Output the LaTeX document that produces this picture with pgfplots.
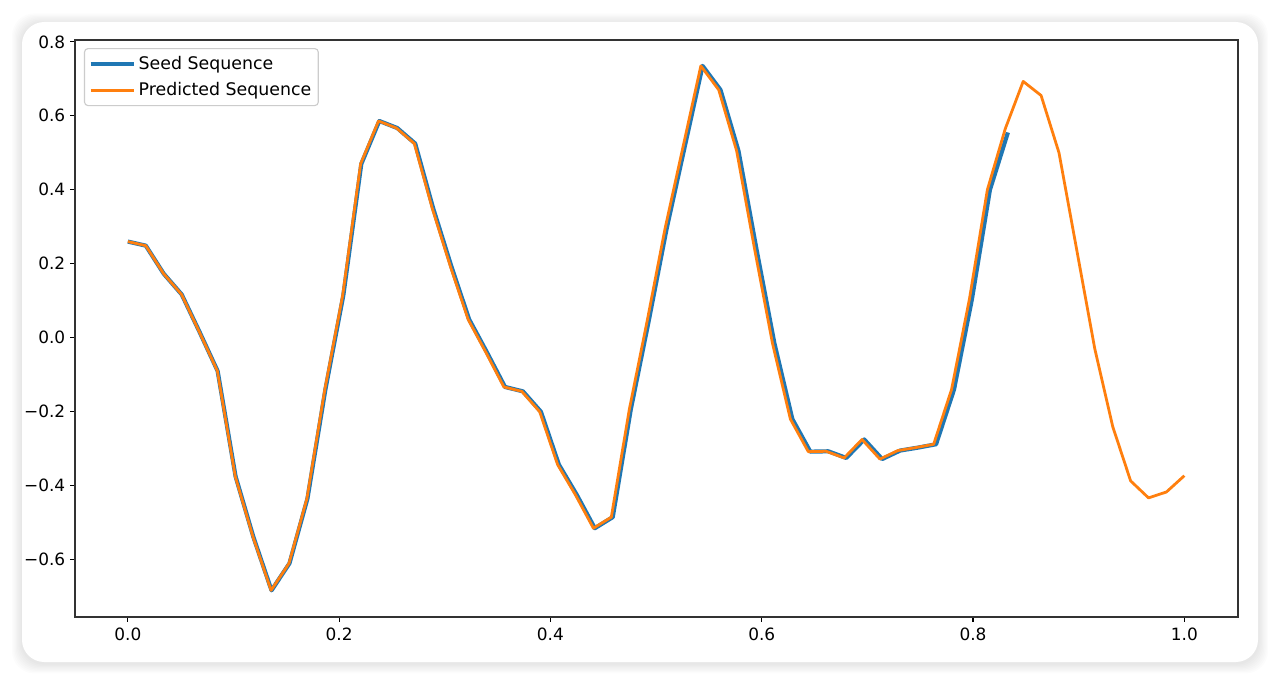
\documentclass[border=0pt]{standalone}
\usepackage{fontspec}
\setmainfont{DejaVu Sans}
\usepackage{pgfplots}
\usepackage{pgfplotstable}
\pgfplotsset{compat=1.18}
\definecolor{tabblue}{HTML}{1F77B4}
\definecolor{taborange}{HTML}{FF7F0E}

\pgfplotstableread{
x y
0.000 0.260
0.017 0.249
0.034 0.173
0.051 0.117
0.068 0.015
0.085 -0.090
0.102 -0.375
0.119 -0.540
0.136 -0.683
0.153 -0.610
0.170 -0.435
0.187 -0.140
0.204 0.115
0.221 0.470
0.238 0.586
0.255 0.567
0.272 0.525
0.289 0.350
0.306 0.195
0.323 0.050
0.340 -0.040
0.357 -0.133
0.374 -0.145
0.391 -0.200
0.408 -0.343
0.425 -0.425
0.442 -0.515
0.459 -0.485
0.476 -0.195
0.493 0.045
0.510 0.295
0.527 0.515
0.544 0.735
0.561 0.670
0.578 0.505
0.595 0.240
0.612 -0.015
0.629 -0.220
0.646 -0.308
0.663 -0.307
0.680 -0.325
0.697 -0.275
0.714 -0.328
0.731 -0.305
0.748 -0.297
0.765 -0.288
0.782 -0.140
0.799 0.105
0.816 0.400
0.833 0.555
}\seed

\pgfplotstableread{
x y
0.00000 0.260
0.01695 0.249
0.03390 0.173
0.05085 0.117
0.06780 0.015
0.08475 -0.090
0.10169 -0.375
0.11864 -0.540
0.13559 -0.683
0.15254 -0.610
0.16949 -0.435
0.18644 -0.140
0.20339 0.115
0.22034 0.470
0.23729 0.586
0.25424 0.567
0.27119 0.525
0.28814 0.350
0.30508 0.195
0.32203 0.050
0.33898 -0.040
0.35593 -0.133
0.37288 -0.145
0.38983 -0.200
0.40678 -0.343
0.42373 -0.425
0.44068 -0.515
0.45763 -0.485
0.47458 -0.195
0.49153 0.045
0.50847 0.295
0.52542 0.515
0.54237 0.735
0.55932 0.670
0.57627 0.505
0.59322 0.240
0.61017 -0.015
0.62712 -0.220
0.64407 -0.308
0.66102 -0.307
0.67797 -0.325
0.69492 -0.275
0.71186 -0.328
0.72881 -0.305
0.74576 -0.297
0.76271 -0.288
0.77966 -0.140
0.79661 0.105
0.81356 0.400
0.83051 0.565
0.84746 0.693
0.86441 0.655
0.88136 0.500
0.89831 0.235
0.91525 -0.030
0.93220 -0.240
0.94915 -0.387
0.96610 -0.433
0.98305 -0.417
1.00000 -0.373
}\pred

\begin{document}
\begin{tikzpicture}
\useasboundingbox (0,0) rectangle (923.04pt,493.2pt);
\fill[white] (0,0) rectangle (923.04pt,493.2pt);
\foreach \k in {1,...,8}{
  \fill[black, opacity=0.012, rounded corners=16pt]
    (15.84pt-\k*0.9pt,16.56pt-\k*0.9pt-1pt) rectangle (905.76pt+\k*0.9pt,477.36pt+\k*0.9pt-1pt);
}
\fill[white, rounded corners=16pt] (15.84pt,16.56pt) rectangle (905.76pt,477.36pt);
\begin{axis}[
  at={(54pt,48.96pt)}, anchor=south west,
  scale only axis, width=837.36pt, height=415.44pt,
  xmin=-0.05, xmax=1.0508, ymin=-0.755, ymax=0.805,
  xtick={0,0.2,0.4,0.6,0.8,1.0},
  xticklabels={0.0,0.2,0.4,0.6,0.8,1.0},
  ytick={-0.6,-0.4,-0.2,0,0.2,0.4,0.6,0.8},
  yticklabels={−0.6,−0.4,−0.2,0.0,0.2,0.4,0.6,0.8},
  tick align=outside, tick pos=left,
  major tick length=3.5pt,
  tick style={black, line width=0.8pt},
  axis line style={black!80, line width=0.8pt},
  every tick label/.append style={font=\fontsize{12.2}{14}\selectfont, text=black},
  xticklabel style={yshift=-1pt},
  legend style={at={(0.0077,0.986)}, anchor=north west, draw=black!20, line width=0.8pt,
    rounded corners=2.5pt, fill=white, fill opacity=0.8, text opacity=1,
    font=\fontsize{12.5}{15}\selectfont, text=black, inner xsep=3pt, inner ysep=3.5pt, row sep=4pt},
  legend cell align=left,
  legend image code/.code={\draw[#1] (0pt,0pt) -- (29pt,0pt); \path (0pt,0pt) -- (31pt,0pt);},
]
\addplot[color=tabblue, line width=3pt, line join=round] table {\seed};
\addlegendentry{Seed Sequence}
\addplot[color=taborange, line width=2pt, line join=round] table {\pred};
\addlegendentry{Predicted Sequence}
\end{axis}
\end{tikzpicture}
\end{document}
